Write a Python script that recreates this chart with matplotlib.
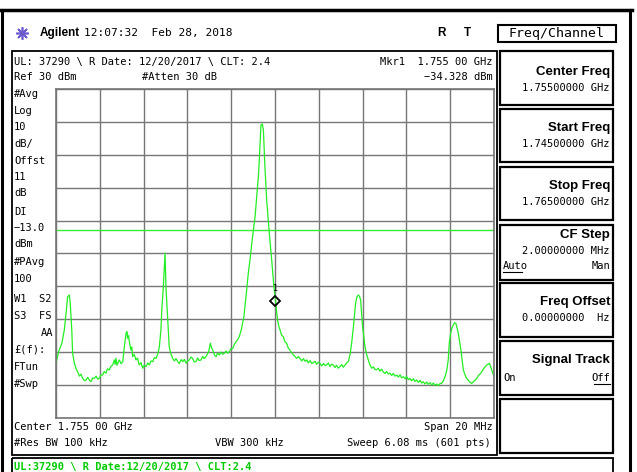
import matplotlib
matplotlib.use("Agg")
import matplotlib.pyplot as plt
from matplotlib.patches import Rectangle

W, H = 637, 472

# trace: offset from start freq (MHz) and level (dBm)
trace_offset_mhz = [
    0.00, 0.12, 0.27, 0.38, 0.46, 0.53, 0.61, 0.65, 0.72, 0.76, 0.84, 0.92, 0.99, 1.07, 1.14,
    1.22, 1.30, 1.37, 1.45, 1.52, 1.60, 1.67, 1.75, 1.83, 1.90, 1.98, 2.05, 2.13, 2.20, 2.28,
    2.35, 2.43, 2.51, 2.59, 2.66, 2.70, 2.74, 2.78, 2.82, 2.89, 2.97, 3.05, 3.12, 3.20, 3.24,
    3.27, 3.31, 3.35, 3.42, 3.46, 3.50, 3.57, 3.65, 3.72, 3.80, 3.88, 3.96, 4.03, 4.11, 4.19,
    4.26, 4.34, 4.42, 4.49, 4.57, 4.65, 4.72, 4.79, 4.84, 4.90, 4.98, 5.02, 5.06, 5.10, 5.17,
    5.25, 5.33, 5.40, 5.48, 5.56, 5.63, 5.71, 5.79, 5.86, 5.94, 6.01, 6.09, 6.16, 6.24, 6.31,
    6.39, 6.47, 6.54, 6.62, 6.70, 6.77, 6.85, 6.97, 7.05, 7.10, 7.16, 7.24, 7.31, 7.38, 7.46,
    7.53, 7.61, 7.68, 7.76, 7.84, 7.91, 7.99, 8.07, 8.14, 8.22, 8.29, 8.37, 8.45, 8.52, 8.58,
    8.63, 8.70, 8.78, 8.86, 8.94, 9.01, 9.09, 9.16, 9.24, 9.28, 9.32, 9.36, 9.42, 9.47, 9.50,
    9.54, 9.58, 9.62, 9.68, 9.74, 9.80, 9.85, 9.90, 9.95, 10.00, 10.03, 10.07, 10.12, 10.17, 10.23,
    10.30, 10.38, 10.45, 10.53, 10.60, 10.68, 10.76, 10.84, 10.91, 10.99, 11.07, 11.14, 11.22, 11.30, 11.37,
    11.45, 11.52, 11.60, 11.68, 11.75, 11.83, 11.90, 11.98, 12.05, 12.13, 12.21, 12.28, 12.36, 12.43, 12.51,
    12.58, 12.66, 12.74, 12.81, 12.89, 12.97, 13.05, 13.12, 13.20, 13.27, 13.35, 13.43, 13.50, 13.58, 13.68,
    13.74, 13.80, 13.86, 13.91, 14.00, 14.06, 14.11, 14.19, 14.26, 14.34, 14.42, 14.49, 14.57, 14.64, 14.72,
    14.79, 14.87, 14.94, 15.02, 15.10, 15.17, 15.25, 15.33, 15.40, 15.48, 15.56, 15.63, 15.71, 15.78, 15.86,
    15.94, 16.01, 16.09, 16.16, 16.24, 16.32, 16.39, 16.47, 16.55, 16.62, 16.70, 16.77, 16.85, 16.93, 17.00,
    17.08, 17.16, 17.23, 17.31, 17.38, 17.46, 17.53, 17.61, 17.69, 17.76, 17.84, 17.91, 17.96, 18.02, 18.08,
    18.14, 18.20, 18.26, 18.31, 18.37, 18.43, 18.49, 18.55, 18.60, 18.68, 18.75, 18.83, 18.90, 18.98, 19.06,
    19.13, 19.21, 19.29, 19.36, 19.44, 19.52, 19.59, 19.67, 19.73, 19.79, 19.88, 20.00,
]
trace_dbm = [
    -53.3, -49.8, -47.2, -43.2, -38.1, -33.1, -32.6, -35.1, -43.2, -50.3, -53.3, -55.0, -55.9, -57.2, -56.6,
    -57.9, -58.6, -58.4, -57.6, -58.4, -58.9, -57.8, -57.9, -57.2, -58.1, -57.9, -56.8, -56.9, -55.8, -56.3,
    -55.0, -55.3, -54.2, -53.8, -52.3, -53.6, -51.8, -53.9, -53.3, -52.3, -53.4, -52.8, -48.3, -44.2, -43.7,
    -45.7, -44.9, -46.8, -49.3, -48.4, -51.3, -50.6, -52.3, -51.7, -53.8, -53.1, -54.8, -53.9, -54.3, -53.2,
    -53.8, -52.6, -52.8, -51.6, -51.8, -50.4, -48.3, -43.2, -36.1, -30.1, -19.9, -30.1, -35.0, -40.2, -48.3,
    -50.6, -51.8, -52.6, -51.9, -52.8, -53.4, -52.2, -52.8, -52.1, -53.3, -52.6, -52.3, -51.4, -51.8, -52.9,
    -52.8, -51.7, -52.5, -52.3, -51.2, -51.9, -51.3, -49.8, -47.2, -48.6, -49.3, -50.9, -51.3, -50.2, -50.8,
    -49.9, -50.6, -50.3, -49.6, -50.2, -49.8, -48.9, -48.8, -47.6, -46.8, -46.2, -45.2, -43.4, -41.2, -39.2,
    -36.1, -31.5, -26.0, -21.8, -16.9, -13.2, -8.8, -3.0, 3.3, 8.0, 13.4, 19.0, 19.3, 17.5, 12.5,
    6.3, 1.0, -3.8, -8.9, -13.9, -18.2, -22.0, -26.0, -30.1, -33.0, -34.3, -37.5, -40.2, -42.0, -43.2,
    -44.8, -45.2, -46.8, -47.2, -48.6, -49.3, -50.1, -50.8, -51.2, -51.8, -51.3, -51.8, -52.6, -51.9, -52.7,
    -52.3, -53.2, -52.5, -53.4, -53.1, -52.7, -53.6, -53.0, -53.3, -54.1, -53.4, -54.0, -53.8, -53.2, -54.3,
    -53.6, -53.8, -54.6, -53.9, -54.8, -54.3, -53.7, -54.5, -53.8, -53.2, -52.8, -50.5, -47.2, -42.2, -35.1,
    -33.2, -32.6, -33.0, -34.1, -42.2, -45.6, -48.3, -50.8, -52.3, -53.9, -54.8, -54.4, -55.2, -55.3, -54.8,
    -55.7, -55.1, -55.9, -56.4, -55.8, -56.6, -56.3, -57.0, -56.4, -57.2, -56.9, -57.5, -56.8, -57.7, -57.4,
    -58.0, -57.3, -58.3, -57.9, -58.6, -58.0, -58.8, -58.4, -59.1, -58.5, -59.3, -58.9, -59.6, -59.0, -59.7,
    -59.2, -59.9, -59.3, -60.0, -59.6, -60.1, -59.5, -59.4, -58.6, -57.4, -55.6, -52.3, -47.0, -44.2, -42.6,
    -41.7, -41.0, -41.2, -42.5, -44.2, -46.8, -49.3, -52.6, -55.3, -56.9, -57.9, -58.5, -59.0, -59.4, -58.9,
    -58.5, -57.9, -57.0, -56.6, -55.9, -55.0, -54.4, -53.8, -53.6, -53.3, -55.0, -57.4,
]
start_mhz = 1745.0
stop_mhz = 1765.0
ref_dbm = 30.0
db_per_div = 10
display_line_dbm = -13.0
mkr_mhz = 1755.0
mkr_dbm = -34.328

left_labels = ["#Avg", "Log", "10", "dB/", "Offst", "11", "dB", "DI", "\u221213.0", "dBm",
               "#PAvg", "100", "W1  S2", "S3  FS", "", "\u00a3(f):", "FTun", "#Swp"]
left_label_y = [94, 111, 127, 144, 161, 177, 193, 212, 228, 244, 262, 279, 299, 316, 333, 350, 367, 384]

softkeys = ["Center Freq", "Start Freq", "Stop Freq", "CF Step", "Freq Offset", "Signal Track", ""]
softkey_values = ["1.75500000 GHz", "1.74500000 GHz", "1.76500000 GHz", "2.00000000 MHz",
                  "0.00000000  Hz", "", ""]
softkey_boxes = [(51, 105), (109, 162), (167, 220), (225, 280), (283, 337), (341, 395), (399, 453)]

MONO = "DejaVu Sans Mono"
SANS = "Liberation Sans"

fig = plt.figure(figsize=(W / 100, H / 100), dpi=100)
fig.patch.set_facecolor("white")

# overlay axes in pixel coordinates for all the screen furniture
bg = fig.add_axes([0, 0, 1, 1])
bg.set_xlim(0, W)
bg.set_ylim(H, 0)
bg.axis("off")


def txt(x, y, s, size=7.5, family=MONO, **kw):
    kw.setdefault("va", "center")
    bg.text(x, y, s, fontsize=size, family=family, **kw)


def box(x0, y0, x1, y1, lw=1.3):
    bg.add_patch(Rectangle((x0, y0), x1 - x0, y1 - y0, fill=False, ec="black", lw=lw))


# outer frame
bg.plot([0, 632], [10, 10], color="black", lw=2.5)
bg.plot([630, 630], [10, H], color="black", lw=2.2)
bg.plot([1.5, 1.5], [10, H], color="black", lw=2.2)

# header
bg.plot([22], [33], marker=(8, 2, 0), ms=9, color="#6a5acd", mew=1.2)
txt(40, 33, "Agilent", size=8.5, family=SANS, weight="bold")
txt(84, 33, "12:07:32  Feb 28, 2018", size=8)
txt(442, 33, "R", size=8.5, family=SANS, weight="bold", ha="center")
txt(467, 33, "T", size=8.5, family=SANS, weight="bold", ha="center")
box(498, 25, 616, 42, lw=1.5)
txt(557, 33.5, "Freq/Channel", size=9.5, ha="center")

# left panel
box(12, 51, 497, 455)
txt(14, 62, "UL: 37290 \\ R Date: 12/20/2017 \\ CLT: 2.4")
txt(14, 77, "Ref 30 dBm")
txt(142, 77, "#Atten 30 dB")
txt(493, 62, "Mkr1  1.755 00 GHz", ha="right")
txt(493, 77, "\u221234.328 dBm", ha="right")
for s, y in zip(left_labels, left_label_y):
    txt(14, y, s)
txt(53, 333, "AA", ha="right")
txt(14, 427, "Center 1.755 00 GHz")
txt(493, 427, "Span 20 MHz", ha="right")
txt(14, 443, "#Res BW 100 kHz")
txt(215, 443, "VBW 300 kHz")
txt(491, 443, "Sweep 6.08 ms (601 pts)", ha="right")

# right softkey panel
for i, ((y0, y1), key, val) in enumerate(zip(softkey_boxes, softkeys, softkey_values)):
    box(500, y0, 613, y1, lw=1.6)
    title_dy, val_dy = (10, 26) if key == "CF Step" else (19, 35)
    if i == 0:
        title_dy, val_dy = 21, 37
    if key:
        txt(610, y0 + title_dy, key, size=9.5, family=SANS, weight="bold", ha="right")
    if val:
        txt(610, y0 + val_dy, val, ha="right")
txt(503, 266, "Auto")
bg.plot([503, 522], [272, 272], color="black", lw=0.8)
txt(610, 266, "Man", ha="right")
txt(503, 378, "On")
txt(610, 378, "Off", ha="right")
bg.plot([594, 610], [384, 384], color="black", lw=0.8)

# green status line
box(12, 458, 613, 478)
txt(14, 467, "UL:37290 \\ R Date:12/20/2017 \\ CLT:2.4", color="#00cc00", weight="bold")

# graticule
x0, x1, y0, y1 = 56, 494, 88.7, 418.3
ax = fig.add_axes([x0 / W, 1 - y1 / H, (x1 - x0) / W, (y1 - y0) / H])
ax.set_facecolor("white")
bottom_dbm = ref_dbm - 10 * db_per_div
ax.set_xlim(start_mhz, stop_mhz)
ax.set_ylim(bottom_dbm, ref_dbm)
ax.set_xticks([start_mhz + 2 * i for i in range(11)])
ax.set_yticks([bottom_dbm + db_per_div * i for i in range(11)])
ax.grid(True, color="#767676", lw=1.0)
ax.tick_params(length=0, labelbottom=False, labelleft=False)
for sp in ax.spines.values():
    sp.set_color("#767676")
    sp.set_linewidth(1.2)

ax.axhline(display_line_dbm, color="#33ee33", lw=1.0)
freqs = [start_mhz + f for f in trace_offset_mhz]
ax.plot(freqs, trace_dbm, color="#22ee22", lw=0.9)
ax.plot([mkr_mhz], [mkr_dbm], marker="D", ms=5.5, mfc="none", mec="black", mew=1.3)
ax.annotate("1", (mkr_mhz, mkr_dbm), xytext=(0, 9), textcoords="offset points",
            ha="center", va="center", fontsize=6, family=MONO)

fig.savefig("out.png", dpi=100)
